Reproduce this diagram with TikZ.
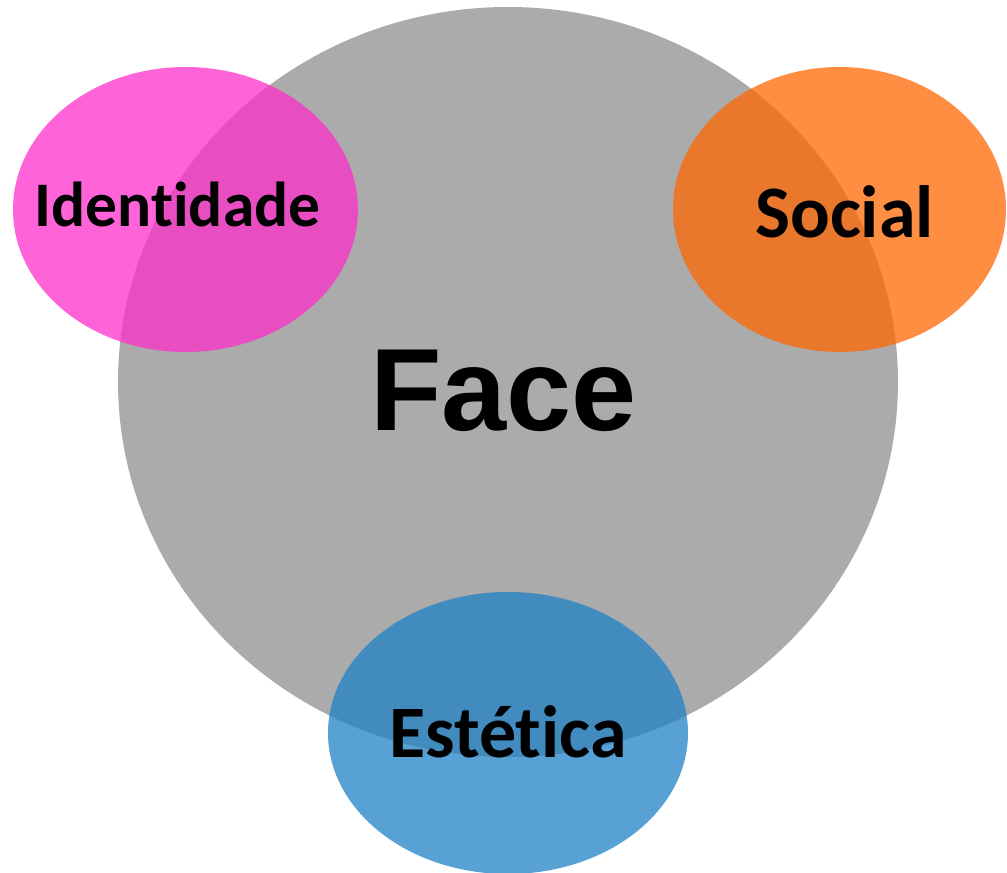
\documentclass[tikz,border=0pt]{standalone}
\usepackage{fontspec}
\usepackage{tikz}
\newfontfamily\calibri[Ligatures=NoCommon]{Carlito}
\newfontfamily\arialbold{Liberation Sans}

\definecolor{cinza}{RGB}{171,171,171}
\definecolor{rosa}{RGB}{255,45,203}
\definecolor{laranja}{RGB}{255,101,0}
\definecolor{azul}{RGB}{30,128,198}

\begin{document}
\begin{tikzpicture}[x=1pt,y=-1pt,
    bolha/.style={fill opacity=#1},
    rotulo/.style={anchor=base,inner sep=0pt,font=\calibri\bfseries\fontsize{#1}{#1}\selectfont}]
        \useasboundingbox (0,0) rectangle (1007,873);
        \coordinate (cface) at (508,382);
        \coordinate (cidentidade) at (185.5,209.5);
        \coordinate (csocial) at (839.5,209.5);
        \coordinate (cestetica) at (508,733);
        \fill[cinza] (cface) ellipse [x radius=390pt, y radius=375pt];
        \fill[rosa, bolha=0.74] (cidentidade) ellipse [x radius=172.5pt, y radius=142.5pt];
        \fill[laranja, bolha=0.74] (csocial) ellipse [x radius=166.5pt, y radius=142.5pt];
        \fill[azul, bolha=0.74] (cestetica) ellipse [x radius=180pt, y radius=141pt];
        \node[anchor=base, inner sep=0pt, font=\arialbold\bfseries\fontsize{117}{117}\selectfont] (face) at (503.5,430) {Face};
        \node[rotulo=63.5] (identidade) at (177.5,226) {Identidade};
        \node[rotulo=74] (social) at (844.5,237) {Social};
        \node[rotulo=74] (estetica) at (508,757) {Estética};
        \end{tikzpicture}
\end{document}
